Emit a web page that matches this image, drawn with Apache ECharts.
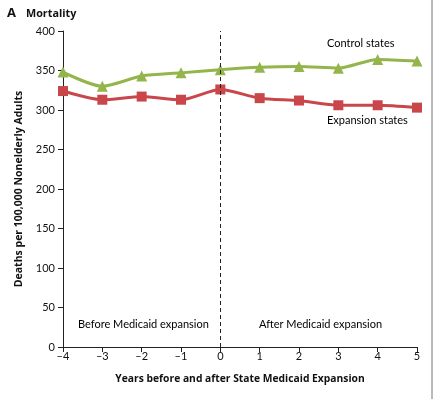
<!DOCTYPE html>
<html>
<head>
<meta charset="utf-8">
<script src="https://cdn.jsdelivr.net/npm/echarts@6/dist/echarts.min.js"></script>
<style>
html,body{margin:0;padding:0;background:#fff;}
#chart{width:434px;height:399px;}
</style>
</head>
<body>
<div id="chart"></div>
<script>
const years = [-4, -3, -2, -1, 0, 1, 2, 3, 4, 5];
const controlStates = [348, 330, 343, 347, 351, 354, 355, 353, 364, 362];
const expansionStates = [324, 313, 317, 313, 326, 315, 312, 306, 306, 303];
const yTicks = [0, 50, 100, 150, 200, 250, 300, 350, 400];

const FONT = 'Lato, "Open Sans", sans-serif';
const BOLD = '"Open Sans", "Noto Sans", sans-serif';
const chart = echarts.init(document.getElementById('chart'));

chart.setOption({
  backgroundColor: '#fff',
  animation: false,
  textStyle: { fontFamily: FONT },
  grid: { left: 63, right: 17, top: 31, bottom: 52 },
  xAxis: {
    type: 'value',
    min: -4, max: 5, interval: 1,
    name: 'Years before and after State Medicaid Expansion',
    nameLocation: 'middle', nameGap: 27,
    nameTextStyle: { fontFamily: BOLD, fontWeight: 'bold', fontSize: 10.3, color: '#111' },
    axisLine: { show: true, onZero: false, lineStyle: { color: '#222', width: 1 } },
    axisTick: { show: true, length: 5, lineStyle: { color: '#222' } },
    axisLabel: {
      fontSize: 11, color: '#111', margin: 4,
      formatter: v => String(v).replace('-', '\u2013')
    },
    splitLine: { show: false }
  },
  yAxis: {
    type: 'value',
    min: yTicks[0], max: yTicks[yTicks.length - 1], interval: 50,
    name: 'Deaths per 100,000 Nonelderly Adults',
    nameLocation: 'middle', nameGap: 36,
    nameTextStyle: { fontFamily: BOLD, fontWeight: 'bold', fontSize: 10.5, color: '#111' },
    axisLine: { show: true, onZero: false, lineStyle: { color: '#222', width: 1 } },
    axisTick: { show: true, length: 5, lineStyle: { color: '#222' } },
    axisLabel: { fontSize: 11, color: '#111', margin: 8 },
    splitLine: { show: false }
  },
  series: [
    {
      name: 'Control states',
      type: 'line',
      data: years.map((x, i) => [x, controlStates[i]]),
      smooth: 0.25,
      symbol: 'triangle', symbolSize: 11,
      lineStyle: { color: '#94b54c', width: 3 },
      itemStyle: { color: '#94b54c' },
      markLine: {
        silent: true, symbol: 'none',
        label: { show: false },
        lineStyle: { color: '#222', type: [4, 3], width: 1 },
        data: [{ xAxis: 0 }]
      }
    },
    {
      name: 'Expansion states',
      type: 'line',
      data: years.map((x, i) => [x, expansionStates[i]]),
      smooth: 0.25,
      symbol: 'rect', symbolSize: 10,
      lineStyle: { color: '#c9474a', width: 3 },
      itemStyle: { color: '#c9474a' }
    }
  ],
  graphic: [
    { type: 'text', left: 7, top: 7, style: { text: 'A', font: 'bold 13px ' + BOLD, fill: '#111' } },
    { type: 'text', left: 26, top: 8, style: { text: 'Mortality', font: 'bold 10.8px ' + BOLD, fill: '#111' } },
    { type: 'text', left: 327, top: 38, style: { text: 'Control states', font: '11px ' + FONT, fill: '#000' } },
    { type: 'text', left: 327, top: 115, style: { text: 'Expansion states', font: '11px ' + FONT, fill: '#000' } },
    { type: 'text', left: 78, top: 319, style: { text: 'Before Medicaid expansion', font: '11px ' + FONT, fill: '#000' } },
    { type: 'text', left: 259, top: 319, style: { text: 'After Medicaid expansion', font: '11px ' + FONT, fill: '#000' } },
    { type: 'line', shape: { x1: 432, y1: 0, x2: 432, y2: 399 }, style: { stroke: '#777', lineWidth: 1 } }
  ]
});
</script>
</body>
</html>
